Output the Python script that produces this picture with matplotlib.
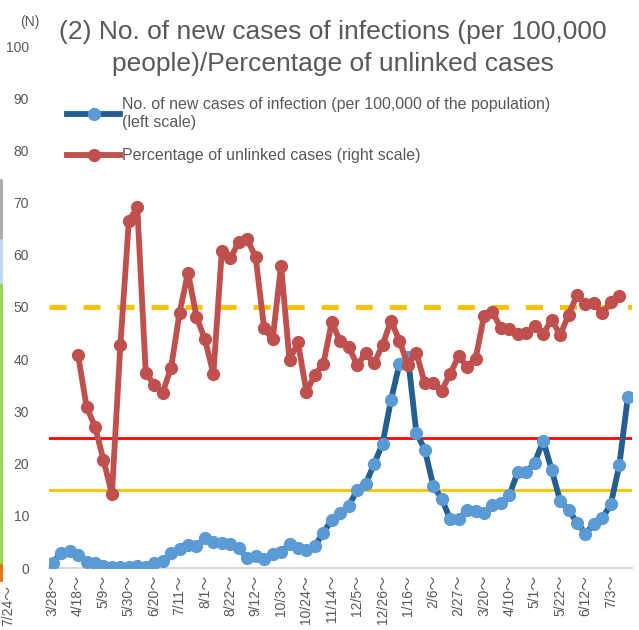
import matplotlib
matplotlib.use("Agg")
import matplotlib.pyplot as plt
from matplotlib.lines import Line2D
import numpy as np

plt.rcParams['font.family'] = ['Liberation Sans', 'Noto Sans CJK JP', 'DejaVu Sans']

tick_labels = ["3/28〜", "4/18〜", "5/9〜", "5/30〜", "6/20〜", "7/11〜", "8/1〜", "8/22〜",
               "9/12〜", "10/3〜", "10/24〜", "11/14〜", "12/5〜", "12/26〜", "1/16〜", "2/6〜",
               "2/27〜", "3/20〜", "4/10〜", "5/1〜", "5/22〜", "6/12〜", "7/3〜"]

new_cases = [1.0, 2.9, 3.3, 2.5, 1.2, 0.9, 0.4, 0.2, 0.2, 0.2, 0.3, 0.2, 0.9, 1.3, 2.8, 3.6,
             4.4, 4.2, 5.7, 5.0, 4.7, 4.6, 3.8, 1.9, 2.3, 1.7, 2.7, 3.1, 4.6, 3.8, 3.4, 4.2,
             6.8, 9.2, 10.5, 11.9, 14.9, 16.1, 19.9, 23.8, 32.2, 39.1, 40.5, 25.9, 22.7, 15.7,
             13.3, 9.3, 9.3, 11.2, 11.0, 10.5, 12.1, 12.5, 14.0, 18.4, 18.3, 20.2, 24.4, 18.8,
             12.9, 11.1, 8.7, 6.6, 8.4, 9.5, 12.3, 19.7, 32.7]

unlinked_pct = [None, None, None, 40.8, 30.9, 27.1, 20.7, 14.2, 42.7, 66.5, 69.1, 37.4, 35.1,
                33.6, 38.4, 48.9, 56.6, 48.1, 43.8, 37.2, 60.8, 59.3, 62.5, 63.0, 59.5, 45.9,
                43.8, 57.9, 39.8, 43.2, 33.8, 37.0, 39.1, 47.1, 43.4, 42.4, 38.9, 41.1, 39.2,
                42.7, 47.4, 43.5, 38.9, 41.2, 35.4, 35.4, 34.0, 37.2, 40.6, 38.6, 40.0, 48.3,
                49.1, 45.9, 45.7, 44.8, 45.0, 46.4, 44.8, 47.6, 44.6, 48.5, 52.3, 50.5, 50.7,
                48.8, 51.0, 52.1]

threshold_red = 25
threshold_orange = 15
threshold_pct = 50

W, H = 639, 630
fig = plt.figure(figsize=(W / 100, H / 100), dpi=100)
ax = fig.add_axes([48.5 / W, 1 - 568 / H, (632 - 48.5) / W, (568 - 46) / H])

n = len(new_cases)
x = np.arange(n)
pct = np.array([np.nan if v is None else v for v in unlinked_pct], dtype=float)

ax.axhline(threshold_orange, color='#FFC000', lw=2, zorder=1)
ax.axhline(threshold_red, color='#FF0000', lw=2, zorder=1)
ax.axhline(threshold_pct, color='#FFC000', lw=3.5, dashes=(3.5, 3.5), zorder=1)

ax.plot(x, new_cases, color='#255E91', lw=4.2, marker='o', ms=8.5,
        mfc='#5B9BD5', mec='#5B9BD5', zorder=3)
ax.plot(x[:len(pct)], pct, color='#C0504D', lw=4.2, marker='o', ms=8.5,
        mfc='#C0504D', mec='#C0504D', zorder=4)

ax.set_xlim(-0.5, n - 0.5)
ax.set_ylim(0, 100)
ax.set_yticks(np.arange(0, 101, 10))
ax.set_xticks(np.arange(0, 3 * len(tick_labels), 3))
ax.set_xticklabels(tick_labels, rotation=90)
ax.tick_params(axis='both', length=0, colors='#595959', labelsize=10)
ax.tick_params(axis='y', pad=14)
ax.tick_params(axis='x', pad=5)
for s in ['top', 'right', 'left']:
    ax.spines[s].set_visible(False)
ax.spines['bottom'].set_color('#D9D9D9')
ax.spines['bottom'].set_linewidth(1.5)

handles = [
    Line2D([], [], color='#255E91', lw=4.2, marker='o', ms=8.5, mfc='#5B9BD5', mec='#5B9BD5'),
    Line2D([], [], color='#C0504D', lw=4.2, marker='o', ms=8.5, mfc='#C0504D', mec='#C0504D'),
]
labels = ["No. of new cases of infection (per 100,000 of the population)\n(left scale)",
          "Percentage of unlinked cases (right scale)"]
leg = fig.legend(handles, labels, loc='upper left', bbox_to_anchor=(53 / W, 1 - 83 / H),
                 frameon=False, fontsize=11.5, handlelength=3.3, handletextpad=0.15,
                 labelspacing=1.15, labelcolor='#595959')

fig.text(333 / W, 1 - 48 / H,
         "(2) No. of new cases of infections (per 100,000\npeople)/Percentage of unlinked cases",
         ha='center', va='center', fontsize=19, color='#595959', linespacing=1.45)
fig.text(30 / W, 1 - 22 / H, "(N)", ha='center', va='center', fontsize=10, color='#595959')

# partial neighbouring chart at far left edge
seg = [(180, 240, '#A6A6A6'), (240, 285, '#BDD7EE'), (285, 565, '#92D050'), (565, 580, '#E46C0A')]
for y0, y1, c in seg:
    fig.add_artist(Line2D([1 / W, 1 / W], [1 - y0 / H, 1 - y1 / H], color=c, lw=2,
                          transform=fig.transFigure))
fig.text(8 / W, 1 - 605 / H, "7/24〜", rotation=90, ha='center', va='center',
         fontsize=10, color='#595959')

fig.savefig("out.png", dpi=100)
